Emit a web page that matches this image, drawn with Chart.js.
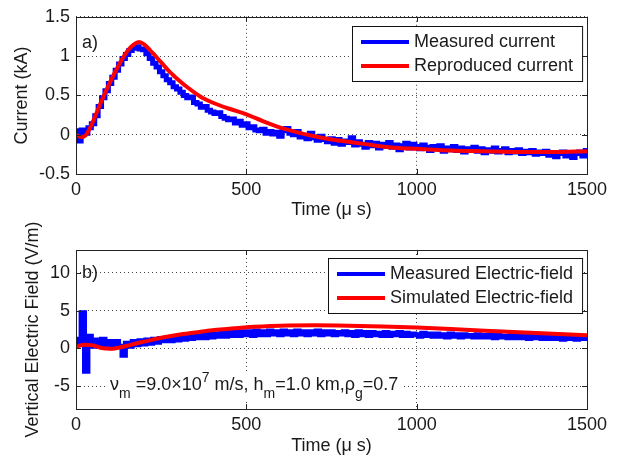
<!DOCTYPE html>
<html>
<head>
<meta charset="utf-8">
<script src="https://cdn.jsdelivr.net/npm/chart.js@4"></script>
<style>
  body { margin: 0; background: #fff; }
  .panel { position: absolute; left: 0; width: 629px; }
</style>
</head>
<body>
<div class="panel" style="top:0;height:230px"><canvas id="currentChart" width="629" height="230"></canvas></div>
<div class="panel" style="top:190px;height:270px"><canvas id="fieldChart" width="629" height="270"></canvas></div>
<script>
// sample spacing of the measured records (us)
const sampleStep = 10;
const timeTicks = [0, 500, 1000, 1500];
const currentTicks = [-0.5, 0, 0.5, 1, 1.5];
const fieldTicks = [-5, 0, 5, 10];

// a) measured current (kA), one value every 10 us from 0 to 1500
const currentMeasured = [
  0.05, -0.08, 0.06, 0.02, 0.09, 0.14, 0.24, 0.36, 0.47, 0.56,
  0.65, 0.73, 0.82, 0.90, 0.97, 1.02, 1.07, 1.10, 1.12, 1.09,
  1.08, 1.03, 0.97, 0.91, 0.86, 0.80, 0.75, 0.70, 0.66, 0.61,
  0.58, 0.54, 0.50, 0.47, 0.48, 0.41, 0.39, 0.35, 0.36, 0.31,
  0.29, 0.27, 0.28, 0.23, 0.21, 0.19, 0.20, 0.15, 0.17, 0.12,
  0.14, 0.09, 0.10, 0.06, 0.05, 0.07, 0.02, 0.04, 0.01, 0.03,
  -0.02, 0.05, 0.08, 0.02, 0.00, 0.04, -0.03, -0.01, -0.05, 0.02,
  -0.04, -0.07, -0.02, -0.06, -0.09, -0.05, -0.11, -0.06, -0.12, -0.08,
  -0.10, -0.04, -0.13, -0.09, -0.12, -0.16, -0.10, -0.14, -0.11, -0.17,
  -0.12, -0.15, -0.10, -0.16, -0.13, -0.19, -0.14, -0.11, -0.17, -0.12,
  -0.15, -0.18, -0.13, -0.16, -0.20, -0.15, -0.18, -0.14, -0.21, -0.17,
  -0.19, -0.15, -0.20, -0.17, -0.22, -0.18, -0.20, -0.16, -0.21, -0.18,
  -0.23, -0.19, -0.21, -0.17, -0.22, -0.20, -0.18, -0.23, -0.20, -0.22,
  -0.19, -0.24, -0.21, -0.23, -0.20, -0.25, -0.22, -0.24, -0.21, -0.26,
  -0.23, -0.28, -0.24, -0.22, -0.27, -0.25, -0.29, -0.24, -0.22, -0.27,
  -0.20
];

// a) reproduced current (kA)
const currentModelTimes = [0, 15, 30, 50, 75, 100, 125, 150, 170, 185, 200, 225, 250, 275, 300, 325, 350, 375, 400, 450, 500, 550, 600, 650, 700, 750, 800, 850, 900, 950, 1000, 1100, 1200, 1300, 1400, 1500];
const currentModel = [0.0, -0.03, 0.0, 0.17, 0.43, 0.67, 0.88, 1.06, 1.15, 1.18, 1.15, 1.04, 0.92, 0.80, 0.70, 0.61, 0.53, 0.46, 0.41, 0.33, 0.26, 0.17, 0.09, 0.03, -0.02, -0.06, -0.09, -0.12, -0.15, -0.17, -0.18, -0.20, -0.21, -0.22, -0.22, -0.21];

// b) measured vertical electric field (V/m), one value every 10 us
const fieldMeasured = [
  1.2, 0.6, 4.7, -3.0, 1.6, 0.3, 1.1, 0.5, 1.2, 0.4,
  0.9, 0.4, 0.9, 0.3, -0.9, 0.7, 0.3, 0.9, 0.5, 1.0,
  0.6, 1.1, 0.7, 1.2, 0.8, 1.3, 1.0, 1.4, 1.0, 1.5,
  1.1, 1.6, 1.2, 1.6, 1.3, 1.7, 1.4, 1.8, 1.4, 1.9,
  1.5, 1.9, 1.6, 2.0, 1.6, 2.1, 1.7, 2.1, 1.7, 2.2,
  1.8, 2.2, 1.7, 2.3, 1.8, 2.2, 1.8, 2.3, 1.9, 2.2,
  1.8, 2.3, 1.9, 2.2, 1.8, 2.3, 1.9, 2.2, 1.8, 2.2,
  1.9, 2.3, 1.8, 2.2, 1.9, 2.2, 1.8, 2.1, 1.9, 2.2,
  1.8, 2.1, 1.7, 2.2, 1.8, 2.1, 1.7, 2.1, 1.8, 2.0,
  1.7, 2.1, 1.7, 2.0, 1.8, 2.1, 1.7, 2.0, 1.7, 1.9,
  1.8, 1.6, 2.0, 1.7, 1.9, 1.6, 1.9, 1.6, 1.8, 1.5,
  1.9, 1.6, 1.8, 1.5, 1.8, 1.6, 1.7, 1.5, 1.8, 1.5,
  1.7, 1.5, 1.7, 1.4, 1.7, 1.5, 1.6, 1.4, 1.7, 1.4,
  1.6, 1.4, 1.6, 1.3, 1.6, 1.4, 1.5, 1.3, 1.6, 1.3,
  1.5, 1.3, 1.5, 1.2, 1.5, 1.3, 1.4, 1.2, 1.5, 1.3,
  1.4
];

// b) simulated vertical electric field (V/m)
const fieldModelTimes = [0, 25, 50, 75, 100, 125, 150, 175, 200, 250, 300, 350, 400, 450, 500, 600, 700, 800, 900, 1000, 1100, 1200, 1300, 1400, 1500];
const fieldModel = [0.2, 0.5, 0.4, 0.05, -0.05, 0.1, 0.35, 0.65, 0.9, 1.4, 1.8, 2.1, 2.4, 2.6, 2.8, 3.0, 3.05, 3.0, 2.9, 2.75, 2.55, 2.35, 2.15, 1.95, 1.75];

const FONT = "'Liberation Sans', Arial, Helvetica, sans-serif";
const INK = '#1a1a1a';
Chart.defaults.font.family = FONT;
Chart.defaults.font.size = 18;
Chart.defaults.color = INK;

function toPoints(times, values) {
  return values.map((v, i) => ({ x: times[i], y: v }));
}
function sampleTimes(values) {
  return values.map((v, i) => i * sampleStep);
}

// box, inward ticks, panel letter, legend and note drawn over the plot
const matlabFrame = {
  id: 'matlabFrame',
  afterDraw(chart, args, opts) {
    const ctx = chart.ctx;
    const a = chart.chartArea;
    const xs = chart.scales.x, ys = chart.scales.y;
    ctx.save();
    ctx.strokeStyle = '#222';
    ctx.lineWidth = 1;
    ctx.beginPath();
    xs.ticks.forEach(t => {
      const px = Math.round(xs.getPixelForValue(t.value)) + 0.5;
      ctx.moveTo(px, a.bottom); ctx.lineTo(px, a.bottom - 5);
      ctx.moveTo(px, a.top); ctx.lineTo(px, a.top + 5);
    });
    ys.ticks.forEach(t => {
      const py = Math.round(ys.getPixelForValue(t.value)) + 0.5;
      ctx.moveTo(a.left, py); ctx.lineTo(a.left + 5, py);
      ctx.moveTo(a.right, py); ctx.lineTo(a.right - 5, py);
    });
    ctx.stroke();
    ctx.strokeRect(Math.round(a.left) + 0.5, Math.round(a.top) + 0.5,
      Math.round(a.right - a.left), Math.round(a.bottom - a.top));

    // panel letter
    ctx.fillStyle = INK;
    ctx.font = '18px ' + FONT;
    ctx.textBaseline = 'alphabetic';
    ctx.textAlign = 'left';
    ctx.fillText(opts.letter, a.left + 6, a.top + opts.letterY);

    // note with sub/superscripts
    if (opts.note) {
      let x = a.left + opts.note.x;
      const base = a.top + opts.note.y;
      const parts = opts.note.parts.map(p => {
        ctx.font = (p.s === 'main' ? 18 : 14) + 'px ' + FONT;
        return { ...p, w: ctx.measureText(p.t).width };
      });
      const total = parts.reduce((s, p) => s + p.w, 0);
      ctx.fillStyle = '#fff';
      ctx.fillRect(x - 4, base - 18, total + 8, 28);
      ctx.fillStyle = INK;
      parts.forEach(p => {
        ctx.font = (p.s === 'main' ? 18 : 14) + 'px ' + FONT;
        const dy = p.s === 'sub' ? 8 : (p.s === 'sup' ? -8 : 0);
        ctx.fillText(p.t, x, base + dy);
        x += p.w;
      });
    }

    // legend box
    ctx.font = '18px ' + FONT;
    const labels = chart.data.datasets.map(d => d.label);
    const textW = Math.max(...labels.map(l => ctx.measureText(l).width));
    const lineW = 48, pad = 9, gap = 5, rowH = 24;
    const boxW = pad + lineW + gap + textW + pad;
    const boxH = 55;
    const bx = Math.round(a.right - 5 - boxW), by = Math.round(a.top + opts.legendTop);
    ctx.fillStyle = '#fff';
    ctx.fillRect(bx, by, boxW, boxH);
    ctx.strokeStyle = '#111';
    ctx.strokeRect(bx + 0.5, by + 0.5, boxW, boxH);
    chart.data.datasets.forEach((d, i) => {
      const ry = by + 16 + i * rowH;
      ctx.strokeStyle = d.borderColor;
      ctx.lineWidth = 4;
      ctx.beginPath();
      ctx.moveTo(bx + pad, ry); ctx.lineTo(bx + pad + lineW, ry);
      ctx.stroke();
      ctx.fillStyle = INK;
      ctx.textBaseline = 'middle';
      ctx.fillText(d.label, bx + pad + lineW + gap, ry);
    });
    ctx.restore();
  }
};

function makeChart(canvasId, cfg) {
  const ctx = document.getElementById(canvasId).getContext('2d');
  return new Chart(ctx, {
    type: 'line',
    data: {
      datasets: [{
        label: cfg.labels[0],
        data: cfg.measured,
        borderColor: '#0000ff',
        borderWidth: 5,
        pointRadius: 0,
        stepped: 'middle',
        order: 1
      }, {
        label: cfg.labels[1],
        data: cfg.model,
        borderColor: '#ff0000',
        borderWidth: 4,
        pointRadius: 0,
        cubicInterpolationMode: 'monotone',
        order: 0
      }]
    },
    options: {
      responsive: false,
      animation: false,
      events: [],
      layout: { padding: { top: cfg.top, right: 42, left: 0, bottom: 0 } },
      scales: {
        x: {
          type: 'linear',
          min: 0, max: 1500,
          afterBuildTicks: s => { s.ticks = timeTicks.map(v => ({ value: v })); },
          afterFit: s => { s.height = cfg.xHeight; },
          ticks: { padding: 5, callback: v => String(v) },
          grid: { color: '#444', drawTicks: false },
          border: { display: false, dash: [1, 3] },
          title: { display: true, text: 'Time (\u03bc s)', padding: { top: 0, bottom: cfg.xTitlePad } }
        },
        y: {
          min: cfg.yMin, max: cfg.yMax,
          afterBuildTicks: s => { s.ticks = cfg.yTicks.map(v => ({ value: v })); },
          afterFit: s => { s.width = 76; },
          ticks: { padding: 6, callback: v => String(v) },
          grid: { color: '#444', drawTicks: false },
          border: { display: false, dash: [1, 3] },
          title: { display: true, text: cfg.yTitle, padding: { top: cfg.yTitlePad, bottom: 0 } }
        }
      },
      plugins: {
        legend: { display: false },
        tooltip: { enabled: false },
        matlabFrame: cfg.frame
      }
    },
    plugins: [matlabFrame]
  });
}

makeChart('currentChart', {
  labels: ['Measured current', 'Reproduced current'],
  measured: toPoints(sampleTimes(currentMeasured), currentMeasured),
  model: toPoints(currentModelTimes, currentModel),
  top: 15, xHeight: 56, xTitlePad: 9,
  yMin: -0.5, yMax: 1.5, yTicks: currentTicks,
  yTitle: 'Current (kA)', yTitlePad: 11,
  frame: { letter: 'a)', letterY: 31, legendTop: 9 }
});

// bottom canvas starts at y=190 so the long axis title has room above the plot
makeChart('fieldChart', {
  labels: ['Measured Electric-field', 'Simulated Electric-field'],
  measured: toPoints(sampleTimes(fieldMeasured), fieldMeasured),
  model: toPoints(fieldModelTimes, fieldModel),
  top: 60, xHeight: 51, xTitlePad: 3,
  yMin: -8, yMax: 13, yTicks: fieldTicks,
  yTitle: 'Vertical Electric Field (V/m)', yTitlePad: 22,
  frame: {
    letter: 'b)', letterY: 28, legendTop: 8,
    note: {
      x: 34, y: 140,
      parts: [
        { t: '\u03bd', s: 'main' }, { t: 'm', s: 'sub' },
        { t: ' =9.0\u00d710', s: 'main' }, { t: '7', s: 'sup' },
        { t: ' m/s, h', s: 'main' }, { t: 'm', s: 'sub' },
        { t: '=1.0 km,\u03c1', s: 'main' }, { t: 'g', s: 'sub' },
        { t: '=0.7', s: 'main' }
      ]
    }
  }
});
</script>
</body>
</html>
